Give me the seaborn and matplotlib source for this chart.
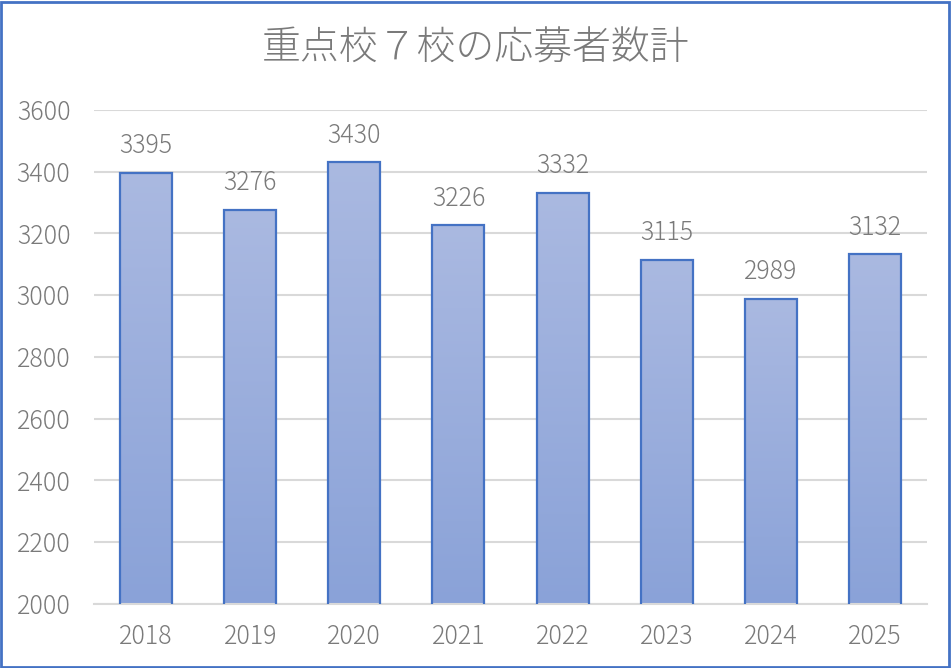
import numpy as np
import pandas as pd
import matplotlib
matplotlib.use("Agg")
import matplotlib.pyplot as plt
import seaborn as sns
from matplotlib.colors import LinearSegmentedColormap
from matplotlib.patches import Rectangle

years = ["2018", "2019", "2020", "2021", "2022", "2023", "2024", "2025"]
applicants = [3395, 3276, 3430, 3226, 3332, 3115, 2989, 3132]
yticks = [2000, 2200, 2400, 2600, 2800, 3000, 3200, 3400, 3600]
title = "重点校７校の応募者数計"

sns.set_theme(style="white")
plt.rcParams["font.family"] = ["Noto Sans CJK JP", "DejaVu Sans"]
plt.rcParams["font.weight"] = "light"

txt = "#7a7a7a"
df = pd.DataFrame({"year": years, "n": applicants})
YMIN, YMAX = 2000, 3600

fig = plt.figure(figsize=(9.51, 6.68), dpi=100)
ax = fig.add_axes([94/951, 1-604/668, (927-94)/951, (604-110)/668])

sns.barplot(data=df, x="year", y="n", ax=ax, width=0.5, color="#9aaedd",
            edgecolor="#4472C4", linewidth=1.6, saturation=1, zorder=3)

ax.set_ylim(YMIN, YMAX)
ax.set_xlim(-0.5, len(years) - 0.5)
ax.set_yticks(yticks)
ax.set_yticklabels([str(v) for v in yticks])
ax.set_xlabel("")
ax.set_ylabel("")
ax.tick_params(axis="both", length=0, labelsize=18, labelcolor=txt)
ax.tick_params(axis="y", pad=17)
ax.tick_params(axis="x", pad=14)
for s in ["top", "right", "left"]:
    ax.spines[s].set_visible(False)
ax.spines["bottom"].set_color("#d9d9d9")
ax.spines["bottom"].set_linewidth(1.5)
ax.yaxis.grid(True, color="#d9d9d9", linewidth=1.5, zorder=0)
ax.set_axisbelow(True)

cmap = LinearSegmentedColormap.from_list("g", ["#8aa2d8", "#aab9e1"])
grad = np.linspace(0, 1, 256).reshape(-1, 1)
for p in list(ax.patches):
    x0 = p.get_x()
    w = p.get_width()
    top = p.get_y() + p.get_height()
    im = ax.imshow(grad, cmap=cmap, origin="lower", aspect="auto",
                   extent=[x0, x0 + w, YMIN, top], zorder=2)
    p.set_facecolor("none")
    p.set_zorder(3)
ax.set_ylim(YMIN, YMAX)
ax.set_xlim(-0.5, len(years) - 0.5)

for i, v in enumerate(applicants):
    ax.annotate(str(v), (i, v), xytext=(0, 10), textcoords="offset points",
                ha="center", va="bottom", fontsize=18, color=txt)

fig.text(476/951, 1-49/668, title, ha="center", va="center", fontsize=28, color=txt)

fig.patches.append(Rectangle((0.001, 0.0015), 0.997, 0.996, transform=fig.transFigure,
                             fill=False, edgecolor="#4472C4", linewidth=2, zorder=10))

fig.savefig("out.png", dpi=100, facecolor="white")
